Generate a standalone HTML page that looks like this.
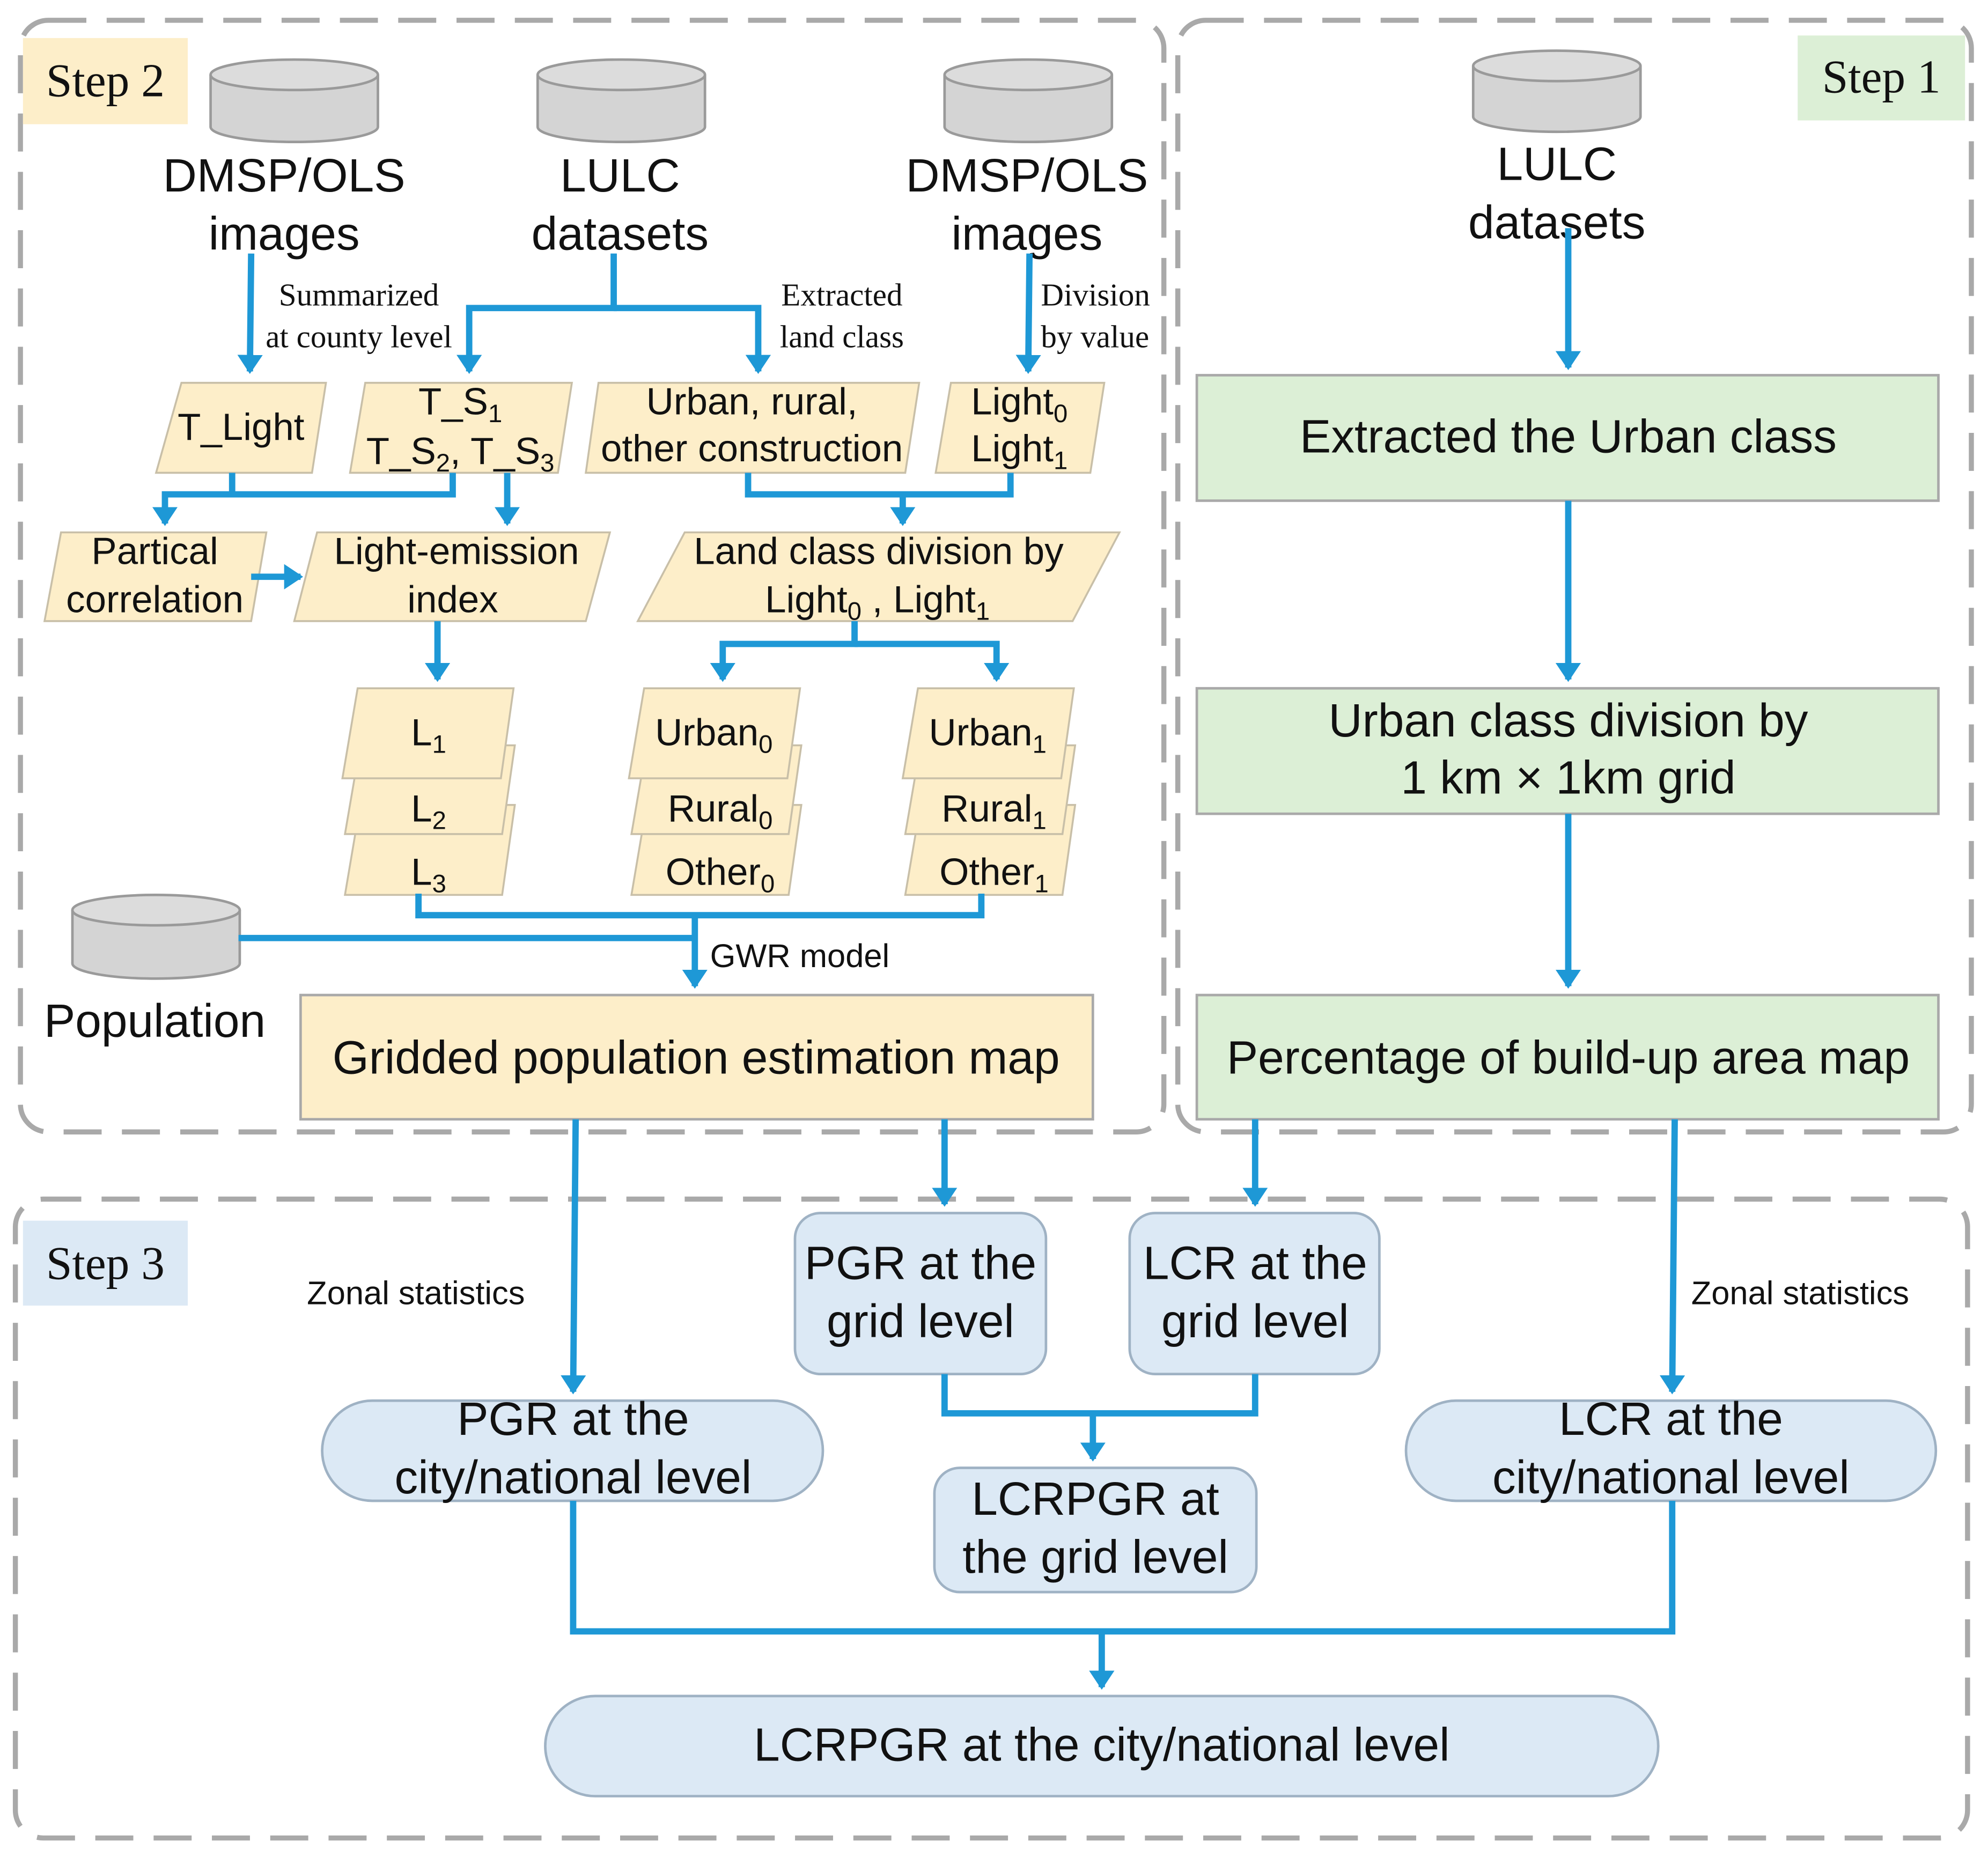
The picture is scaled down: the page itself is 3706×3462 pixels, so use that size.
<!DOCTYPE html>
<html><head><meta charset="utf-8"><style>
html,body{margin:0;padding:0;background:#fff;}
svg{display:block;}
text{font-family:"Liberation Sans",sans-serif;fill:#111;}
.serif{font-family:"Liberation Serif",serif;}
</style></head><body>
<svg width="3706" height="3462" viewBox="0 0 1568 1465" xmlns="http://www.w3.org/2000/svg">
<defs>
<marker id="ah" markerWidth="4" markerHeight="4" refX="2.6" refY="2" orient="auto" markerUnits="strokeWidth">
<path d="M0,0 L3,2 L0,4 z" fill="#1e98d6"/>
</marker>
</defs>
<g fill="none" stroke="#a9a9a9" stroke-width="4" stroke-dasharray="30,16">
<rect x="16" y="16" width="902" height="877" rx="22"/>
<rect x="929" y="16" width="626" height="877" rx="22"/>
<rect x="12" y="946" width="1540" height="504" rx="22"/>
</g>
<rect x="18" y="30" width="130" height="68" fill="#fdeec9"/>
<text class="serif" x="83" y="76" font-size="37" text-anchor="middle">Step 2</text>
<rect x="1418" y="28" width="132" height="67" fill="#dcefd6"/>
<text class="serif" x="1484" y="73" font-size="37" text-anchor="middle">Step 1</text>
<rect x="18" y="963" width="130" height="67" fill="#dce9f5"/>
<text class="serif" x="83" y="1009" font-size="37" text-anchor="middle">Step 3</text>

<g fill="#d4d4d4" stroke="#9a9a9a" stroke-width="2">
<path d="M166,59 L166,100 A66,12 0 0 0 298,100 L298,59"/><ellipse cx="232" cy="59" rx="66" ry="12" fill="#dcdcdc"/>
<path d="M424,59 L424,100 A66,12 0 0 0 556,100 L556,59"/><ellipse cx="490" cy="59" rx="66" ry="12" fill="#dcdcdc"/>
<path d="M745,59 L745,100 A66,12 0 0 0 877,100 L877,59"/><ellipse cx="811" cy="59" rx="66" ry="12" fill="#dcdcdc"/>
<path d="M1162,52 L1162,92 A66,12 0 0 0 1294,92 L1294,52"/><ellipse cx="1228" cy="52" rx="66" ry="12" fill="#dcdcdc"/>
<path d="M57,718 L57,760 A66,12 0 0 0 189,760 L189,718"/><ellipse cx="123" cy="718" rx="66" ry="12" fill="#dcdcdc"/>
</g>
<g font-size="37" text-anchor="middle">
<text x="224" y="151">DMSP/OLS</text><text x="224" y="197">images</text>
<text x="489" y="151">LULC</text><text x="489" y="197">datasets</text>
<text x="810" y="151">DMSP/OLS</text><text x="810" y="197">images</text>
<text x="1228" y="142">LULC</text><text x="1228" y="188">datasets</text>
<text x="122" y="818">Population</text>
</g>
<g font-size="25">
<text class="serif" x="283" y="241" text-anchor="middle">Summarized</text>
<text class="serif" x="283" y="274" text-anchor="middle">at county level</text>
<text class="serif" x="664" y="241" text-anchor="middle">Extracted</text>
<text class="serif" x="664" y="274" text-anchor="middle">land class</text>
<text class="serif" x="821" y="241">Division</text>
<text class="serif" x="821" y="274">by value</text>
</g>

<g fill="#fdeec9" stroke="#c8bfa8" stroke-width="1.5">
<polygon points="143,302 257,302 246,373 123,373"/>
<polygon points="288,302 451,302 440,373 276,373"/>
<polygon points="472,302 725,302 714,373 462,373"/>
<polygon points="750,302 871,302 860,373 738,373"/>
<polygon points="48,420 210,420 198,490 35,490"/>
<polygon points="250,420 481,420 462,490 232,490"/>
<polygon points="540,420 883,420 846,490 503,490"/>
<polygon points="284,635 406,635 396,706 272,706"/>
<polygon points="284,588 406,588 396,658 272,658"/>
<polygon points="282,543 405,543 395,614 270,614"/>
<polygon points="510,635 632,635 622,706 498,706"/>
<polygon points="510,588 632,588 622,658 498,658"/>
<polygon points="508,543 631,543 621,614 496,614"/>
<polygon points="726,635 848,635 838,706 714,706"/>
<polygon points="726,588 848,588 838,658 714,658"/>
<polygon points="724,543 847,543 837,614 712,614"/>
</g>
<g font-size="30" text-anchor="middle">
<text x="190" y="347">T_Light</text>
<text x="363" y="327">T_S<tspan font-size="20" dy="6">1</tspan></text>
<text x="363" y="366">T_S<tspan font-size="20" dy="6">2</tspan><tspan dy="-6">, T_S</tspan><tspan font-size="20" dy="6">3</tspan></text>
<text x="593" y="327">Urban, rural,</text>
<text x="593" y="364">other construction</text>
<text x="804" y="327">Light<tspan font-size="20" dy="6">0</tspan></text>
<text x="804" y="364">Light<tspan font-size="20" dy="6">1</tspan></text>
<text x="122" y="445">Partical</text>
<text x="122" y="483">correlation</text>
<text x="360" y="445">Light-emission</text>
<text x="357" y="483">index</text>
<text x="693" y="445">Land class division by</text>
<text x="692" y="483">Light<tspan font-size="20" dy="6">0</tspan><tspan dy="-6"> ,  Light</tspan><tspan font-size="20" dy="6">1</tspan></text>
<text x="338" y="588">L<tspan font-size="20" dy="6">1</tspan></text>
<text x="338" y="648">L<tspan font-size="20" dy="6">2</tspan></text>
<text x="338" y="698">L<tspan font-size="20" dy="6">3</tspan></text>
<text x="563" y="588">Urban<tspan font-size="20" dy="6">0</tspan></text>
<text x="568" y="648">Rural<tspan font-size="20" dy="6">0</tspan></text>
<text x="568" y="698">Other<tspan font-size="20" dy="6">0</tspan></text>
<text x="779" y="588">Urban<tspan font-size="20" dy="6">1</tspan></text>
<text x="784" y="648">Rural<tspan font-size="20" dy="6">1</tspan></text>
<text x="784" y="698">Other<tspan font-size="20" dy="6">1</tspan></text>
</g>

<g stroke="#a9a9a9" stroke-width="2">
<rect x="237" y="785" width="625" height="98" fill="#fdeec9"/>
<rect x="944" y="296" width="585" height="99" fill="#dcefd6"/>
<rect x="944" y="543" width="585" height="99" fill="#dcefd6"/>
<rect x="944" y="785" width="585" height="98" fill="#dcefd6"/>
</g>
<g stroke="#9fb2c4" stroke-width="2" fill="#dce9f5">
<rect x="627" y="957" width="198" height="127" rx="20"/>
<rect x="891" y="957" width="197" height="127" rx="20"/>
<rect x="737" y="1158" width="254" height="98" rx="20"/>
<rect x="254" y="1105" width="395" height="79" rx="39.5"/>
<rect x="1109" y="1105" width="418" height="79" rx="39.5"/>
<rect x="430" y="1338" width="878" height="79" rx="39.5"/>
</g>
<g font-size="37" text-anchor="middle">
<text x="549" y="847">Gridded population estimation map</text>
<text x="1237" y="357">Extracted the Urban class</text>
<text x="1237" y="581">Urban class division by</text>
<text x="1237" y="626">1 km × 1km grid</text>
<text x="1237" y="847">Percentage of build-up area map</text>
<text x="726" y="1009">PGR at the</text><text x="726" y="1055">grid level</text>
<text x="990" y="1009">LCR at the</text><text x="990" y="1055">grid level</text>
<text x="864" y="1195">LCRPGR at</text><text x="864" y="1241">the grid level</text>
<text x="452" y="1132">PGR at the</text><text x="452" y="1178">city/national level</text>
<text x="1318" y="1132">LCR at the</text><text x="1318" y="1178">city/national level</text>
<text x="869" y="1389">LCRPGR at the city/national level</text>
</g>
<g font-size="26">
<text x="560" y="763">GWR model</text>
<text x="242" y="1029">Zonal statistics</text>
<text x="1334" y="1029">Zonal statistics</text>
</g>

<g stroke="#1e98d6" stroke-width="5" fill="none">
<path d="M198,200 L197,293" marker-end="url(#ah)"/>
<path d="M484,200 L484,243 L370,243 L370,293" marker-end="url(#ah)"/>
<path d="M484,243 L598,243 L598,293" marker-end="url(#ah)"/>
<path d="M812,200 L811,293" marker-end="url(#ah)"/>
<path d="M1237,180 L1237,290" marker-end="url(#ah)"/>
<path d="M183,373 L183,390"/>
<path d="M357,373 L357,390 L130,390 L130,413" marker-end="url(#ah)"/>
<path d="M400,373 L400,413" marker-end="url(#ah)"/>
<path d="M590,373 L590,390 L797,390 L797,373"/>
<path d="M712,390 L712,413" marker-end="url(#ah)"/>
<path d="M198,455 L237,455" marker-end="url(#ah)"/>
<path d="M345,490 L345,536" marker-end="url(#ah)"/>
<path d="M674,490 L674,508 L570,508 L570,536" marker-end="url(#ah)"/>
<path d="M674,508 L786,508 L786,536" marker-end="url(#ah)"/>
<path d="M330,705 L330,722 L774,722 L774,705"/>
<path d="M188,740 L548,740"/>
<path d="M548,722 L548,778" marker-end="url(#ah)"/>
<path d="M1237,395 L1237,536" marker-end="url(#ah)"/>
<path d="M1237,642 L1237,778" marker-end="url(#ah)"/>
<path d="M454,883 L452,1098" marker-end="url(#ah)"/>
<path d="M745,883 L745,950" marker-end="url(#ah)"/>
<path d="M990,883 L990,950" marker-end="url(#ah)"/>
<path d="M1321,883 L1319,1098" marker-end="url(#ah)"/>
<path d="M745,1084 L745,1115 L990,1115 L990,1084"/>
<path d="M862,1115 L862,1151" marker-end="url(#ah)"/>
<path d="M452,1184 L452,1287 L1319,1287 L1319,1184"/>
<path d="M869,1287 L869,1331" marker-end="url(#ah)"/>
</g>
</svg>
</body></html>
